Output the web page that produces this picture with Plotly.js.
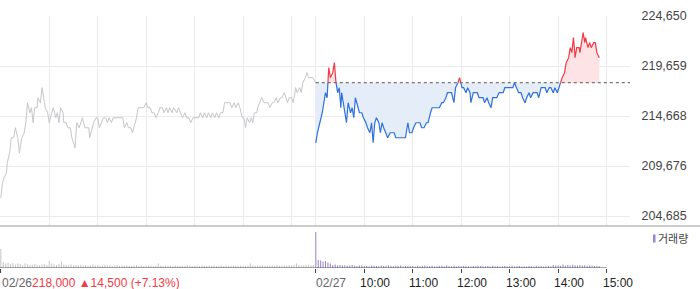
<!DOCTYPE html>
<html><head><meta charset="utf-8">
<script src="https://cdn.plot.ly/plotly-3.0.1.min.js"></script>
<style>html,body{margin:0;padding:0;background:#fff}#chart{width:700px;height:289px}</style>
</head><body><div id="chart"></div>
<script>
// ---- data (minutes after 09:00 of each session, price in KRW) ----
const day1Label = "02/26";
const day2Label = "02/27";
const prevClose = 218000;
const closeText = "218,000 ▲14,500 (+7.13%)";

const day1Min = [0,2,4,7,8,11,13,16,18,21,
 23,26,29,31,33,36,38,40,42,45,
 46,49,51,53,55,58,60,63,65,68,
 70,72,74,77,78,81,83,86,88,92,
 94,97,99,101,104,106,109,110,113,115,
 118,120,122,125,127,130,132,134,137,139,
 142,144,148,151,153,156,158,161,163,166,
 168,170,172,175,177,180,182,185,187,190,
 192,195,197,200,202,205,207,209,212,214,
 218,220,223,225,228,230,233,235,238,240,
 242,245,247,250,252,255,257,260,262,265,
 267,270,272,275,277,280,284,286,289,291,
 294,296,299,301,303,305,308,310,312,314,
 317,318,321,323,326,328,331,333,336,338,
 341,343,346,348,351,353,355,357,360,362,
 365,367,370,372,374,377,379,381,386,390];
const day1Price = [206500,208000,208500,209000,210000,211000,212500,212500,213500,212500,
 211000,212500,213000,214000,216000,215000,215500,214000,215500,215500,
 216500,216000,217500,216500,215500,215000,214000,215000,215500,214500,
 215000,214000,215500,215000,214000,214000,213500,213500,212500,211500,
 214000,213500,214000,214500,213500,213500,213500,212500,213500,214000,
 214500,214500,213500,214000,214500,214500,214000,214500,214000,214500,
 214500,214500,214500,214500,213500,214000,213500,213500,213000,214000,
 214500,215500,215500,215500,215500,216000,215500,215500,215000,215000,
 214500,215000,215500,215500,215000,215500,215000,215500,215000,215500,
 215000,215500,215000,214500,215000,214500,214500,214000,214500,214500,
 214500,214500,215000,214500,215000,214500,215000,214500,215000,214500,
 215000,214500,215000,215000,216000,216000,216000,215500,216000,215500,
 216000,215500,214500,214500,213500,214500,214000,214500,214000,215000,
 215000,215500,216000,216500,216000,216000,216000,215500,216000,216000,
 216500,216000,216500,216500,217000,216500,216000,216500,216500,216000,
 217500,217000,217500,217000,218000,218500,219000,218500,218500,218000];

const day2Min = [0,2,5,8,11,12,14,16,18,21,
 23,25,27,29,31,32,34,36,38,40,
 43,45,47,49,52,54,57,59,62,64,
 67,69,71,73,75,78,80,82,84,87,
 89,92,94,97,99,102,106,109,111,114,
 116,119,121,124,126,129,131,134,137,139,
 142,144,146,148,151,153,156,158,161,163,
 166,168,171,173,176,178,181,183,186,188,
 191,192,195,197,200,202,205,207,209,212,
 214,217,219,222,224,227,229,232,234,237,
 239,242,244,246,249,251,254,256,259,261,
 264,266,269,271,274,276,279,281,284,286,
 289,291,294,296,299,301,303,305,308,310,
 313,315,317,319,321,323,326,327,329,331,
 333,334,337,339,341,344,346,348,351];
const day2Price = [212000,213000,214000,215000,216500,217000,216500,219500,218500,219000,
 220000,218000,217000,217500,215500,217000,216000,215000,214000,216000,
 215000,215500,214500,216500,215500,215000,215000,214500,214000,213500,
 213000,214000,212000,214000,214500,214000,213000,214000,213500,213000,
 212500,213000,213000,213000,212500,212500,212500,212500,212500,214000,
 213000,213000,213500,214000,214000,214000,213500,213500,214000,214000,
 215000,215500,215500,215500,215500,215500,216000,216000,216500,217000,
 217000,217000,216000,217500,218000,218500,217500,217500,217000,217500,
 217000,216000,217000,217000,217000,216500,216500,216500,216000,216500,
 216000,215500,216500,216500,216500,217000,217000,217000,217500,217500,
 217500,217500,217500,218000,217500,217000,217000,216500,216000,216500,
 217000,216500,217000,217000,217000,216500,217500,217500,217500,217000,
 217500,217500,217000,217500,217000,217500,218000,218500,219000,220000,
 220500,221500,221000,222500,220500,221500,221500,221000,222000,223000,
 222000,222500,221500,222000,221500,222000,222000,221000,220500];

// volume (thousand shares), one bar per 3 minutes
const day1Vol = [190,60,45,55,40,50,35,45,40,30,45,38,30,35,42,30,28,35,40,30,
 70,45,35,30,40,65,35,30,28,35,25,30,28,32,26,30,22,28,35,25,
 30,22,26,30,24,28,20,25,30,22,26,24,28,20,22,26,30,22,25,20,
 24,28,22,20,25,45,22,20,26,22,24,20,28,22,20,25,22,30,24,20,
 22,26,20,24,22,20,25,22,28,20,22,24,20,26,22,20,24,22,20,25,
 22,20,24,45,28,22,26,24,30,22,26,24,28,22,30,26,24,28,25,30,
 26,28,45,30,26,28,30,32,28,30];
const day2Vol = [360,80,75,65,70,55,45,30,35,28,
 30,25,28,22,25,30,22,20,24,26,
 20,22,18,25,22,20,18,24,20,22,
 26,20,18,22,20,24,18,20,22,18,
 20,16,22,18,20,24,18,20,22,16,
 18,20,22,18,26,20,18,22,16,20,
 18,22,20,18,16,20,18,22,20,16,
 18,20,16,22,18,20,15,18,20,16,
 18,22,16,18,20,15,18,16,20,18,
 16,22,18,20,16,18,20,18,30,24,
 28,22,35,26,30,24,32,28,26,30,
 24,28,22,26,24,20,22,18];

const yTicks = [204685, 209676, 214668, 219659, 224650];
const hourTicks = [390, 450, 510, 570, 630, 690, 750];
const hourLabels = [day2Label, "10:00", "11:00", "12:00", "13:00", "14:00", "15:00"];
const day1Grid = [0, 60, 120, 180, 240, 300, 360];

// ---- geometry ----
const W = 700, H = 289, ML = 0, MR = 70, MT = 16, MB = 21;
const PW = W - ML - MR, PH = H - MT - MB;
const px = x => (x - ML) / PW;
const py = y => (H - MB - y) / PH;
const SPLIT = py(226);
const DAY = 390, XMAX = 780;
const FONT = "Liberation Sans, Arial, Noto Sans CJK KR, sans-serif";

// ---- split day-2 line at previous close ----
const X = [], V = [];
for (let i = 0; i < day2Min.length; i++) {
  const x0 = day2Min[i] + DAY, v0 = day2Price[i];
  X.push(x0); V.push(v0);
  if (i < day2Min.length - 1) {
    const x1 = day2Min[i + 1] + DAY, v1 = day2Price[i + 1];
    if ((v0 - prevClose) * (v1 - prevClose) < 0) {
      const t = (prevClose - v0) / (v1 - v0);
      X.push(x0 + t * (x1 - x0)); V.push(prevClose);
    }
  }
}
const baseY = X.map(() => prevClose);
const upY = V.map(v => Math.max(v, prevClose));
const loY = V.map(v => Math.min(v, prevClose));
const redY = V.map(v => v >= prevClose ? v : null);
const blueY = V.map(v => v <= prevClose ? v : null);

const RED = "#f23a45", BLUE = "#2f72dc";
const traces = [
  {x: day1Min, y: day1Price, type: "scatter", mode: "lines", line: {color: "#c6c6cb", width: 1}, xaxis: "x", yaxis: "y"},
  {x: X, y: baseY, type: "scatter", mode: "lines", line: {width: 0, color: "rgba(0,0,0,0)"}, xaxis: "x", yaxis: "y"},
  {x: X, y: upY, type: "scatter", mode: "lines", fill: "tonexty", fillcolor: "#fde3e6", line: {width: 0, color: "rgba(0,0,0,0)"}, xaxis: "x", yaxis: "y"},
  {x: X, y: baseY, type: "scatter", mode: "lines", line: {width: 0, color: "rgba(0,0,0,0)"}, xaxis: "x", yaxis: "y"},
  {x: X, y: loY, type: "scatter", mode: "lines", fill: "tonexty", fillcolor: "#e5edf9", line: {width: 0, color: "rgba(0,0,0,0)"}, xaxis: "x", yaxis: "y"},
  {x: [DAY, XMAX], y: [prevClose, prevClose], type: "scatter", mode: "lines", line: {color: "#555", width: 1, dash: "dot"}, xaxis: "x", yaxis: "y"},
  {x: X, y: blueY, type: "scatter", mode: "lines", line: {color: BLUE, width: 1.2}, connectgaps: false, xaxis: "x", yaxis: "y"},
  {x: X, y: redY, type: "scatter", mode: "lines", line: {color: RED, width: 1.2}, connectgaps: false, xaxis: "x", yaxis: "y"},
  {x: day1Vol.map((_, i) => i * 3), y: day1Vol, type: "bar", width: 1.3, marker: {color: "#c6c6c6", line: {width: 0}}, xaxis: "x2", yaxis: "y2"},
  {x: day2Vol.map((_, i) => i * 3 + DAY), y: day2Vol, type: "bar", width: 1.3, marker: {color: "#9a86cc", line: {width: 0}}, xaxis: "x2", yaxis: "y2"}
];

const labY = py(283);
const annotations = [
  {xref: "paper", yref: "paper", x: 0, y: labY, xanchor: "left", yanchor: "middle", showarrow: false,
   text: `<span style="color:#666">${day1Label}</span><span style="color:${RED}">${closeText}</span>`,
   font: {family: FONT, size: 12, color: "#666"}},
  ...hourTicks.map((t, i) => ({xref: "x2", yref: "paper", x: t, y: labY, xanchor: "left", yanchor: "middle",
    xshift: i === 0 ? -2 : -6, showarrow: false, text: hourLabels[i],
    font: {family: FONT, size: 12, color: i === 0 ? "#666" : "#222"}})),
  {xref: "paper", yref: "paper", x: px(656), y: py(238.5), xanchor: "left", yanchor: "middle", showarrow: false,
   text: "거래량", font: {family: FONT, size: 11, color: "#444"}}
];

const shapes = [
  {type: "line", xref: "paper", yref: "paper", x0: 0, x1: W / PW, y0: SPLIT, y1: SPLIT, line: {color: "#9a9a9a", width: 1}},
  {type: "line", xref: "x2", yref: "y2", x0: -1, x1: 750, y0: 0, y1: 0, line: {color: "#555", width: 1}},
  {type: "rect", xref: "paper", yref: "paper", x0: px(653), x1: px(655.5), y0: py(242.5), y1: py(234.5), line: {width: 0}, fillcolor: "#9a86cc"}
];

const layout = {
  width: W, height: H,
  margin: {l: ML, r: MR, t: MT, b: MB, pad: 0},
  paper_bgcolor: "#fff", plot_bgcolor: "#fff",
  showlegend: false, hovermode: false,
  font: {family: FONT, size: 12, color: "#444"},
  xaxis: {domain: [0, 1], range: [-1, 779], anchor: "y", tickmode: "array", tickvals: day1Grid.concat(hourTicks),
          showticklabels: false, ticks: "", showgrid: true, gridcolor: "#ebebeb", gridwidth: 1, zeroline: false, showline: false},
  yaxis: {domain: [SPLIT, 1], range: [203690, 224660], anchor: "x", side: "right", tickmode: "array", tickvals: yTicks,
          ticktext: yTicks.map(v => v.toLocaleString("en-US")), ticks: "outside", ticklen: 8, tickcolor: "rgba(0,0,0,0)",
          showgrid: true, gridcolor: "#ebebeb", gridwidth: 1, zeroline: false, showline: false,
          tickfont: {family: FONT, size: 12.5, color: "#444"}},
  xaxis2: {domain: [0, 1], range: [-1, 779], anchor: "y2", tickmode: "array", tickvals: [0].concat(hourTicks),
          showticklabels: false, ticks: "outside", ticklen: 4, tickcolor: "#444", tickwidth: 1,
          showgrid: false, zeroline: false, showline: false},
  yaxis2: {domain: [0, SPLIT], range: [0, 420], anchor: "x2", showgrid: false, showticklabels: false, zeroline: false, showline: false, ticks: ""},
  annotations, shapes
};

Plotly.newPlot("chart", traces, layout, {displayModeBar: false, staticPlot: true});
</script></body></html>
